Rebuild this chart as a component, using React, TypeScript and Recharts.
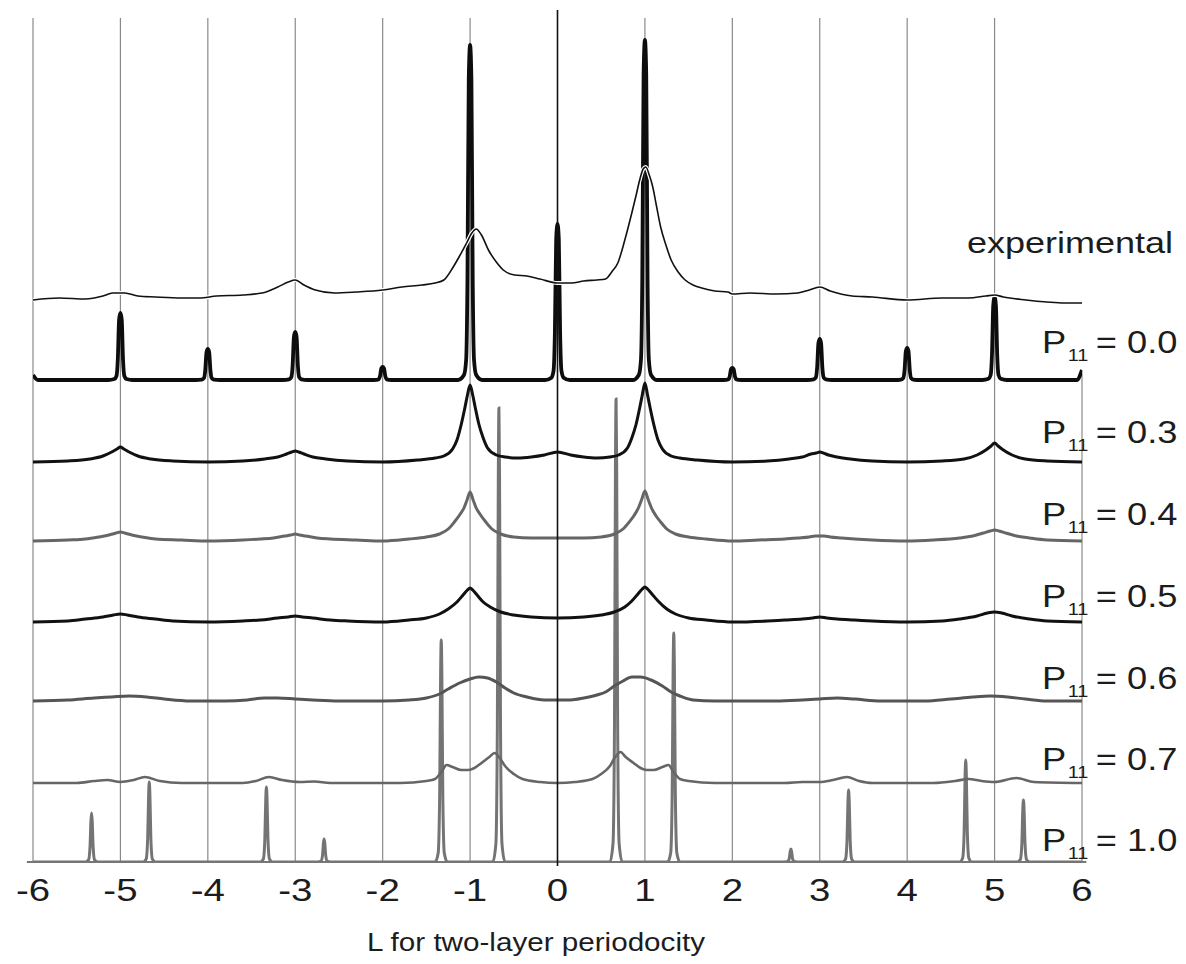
import React from 'react';
import { LineChart, Line, XAxis, YAxis, ReferenceLine } from 'recharts';

// ---------- tick labels / text ----------
const L_TICKS = [-6, -5, -4, -3, -2, -1, 0, 1, 2, 3, 4, 5, 6];
const X_TITLE = 'L for two-layer periodocity';
const EXP_NAME = 'experimental';
const P11_VALUES = ['0.0', '0.3', '0.4', '0.5', '0.6', '0.7', '1.0'];

// vertical offsets (stacking) of each curve, intensity units
const OFFSET_EXP = 562;
const OFFSET_P00 = 482;
const OFFSET_P03 = 400;
const OFFSET_P04 = 321;
const OFFSET_P05 = 240;
const OFFSET_P06 = 161;
const OFFSET_P07 = 79;
const OFFSET_P10 = 0;

// ---------- series values [L, intensity] ----------
const EXPERIMENTAL: number[][] = [
  [-6, 0], [-5.7, 2], [-5.4, 1], [-5.2, 4], [-5.09, 7], [-4.95, 7], [-4.8, 4], [-4.6, 3],
  [-4.3, 2], [-4.1, 2], [-3.9, 4], [-3.6, 5], [-3.38, 7], [-3.2, 13], [-3.08, 18], [-3.0, 20],
  [-2.9, 15], [-2.77, 10], [-2.55, 7], [-2.3, 8], [-2.0, 10], [-1.78, 13], [-1.55, 15],
  [-1.4, 17], [-1.3, 20], [-1.2, 32], [-1.12, 44], [-1.04, 57], [-0.98, 67], [-0.93, 71],
  [-0.87, 65], [-0.79, 50], [-0.7, 38], [-0.62, 30], [-0.49, 25], [-0.35, 24], [-0.2, 21],
  [0, 17], [0.16, 17], [0.3, 19], [0.45, 20], [0.55, 21], [0.62, 28], [0.69, 37], [0.77, 60],
  [0.85, 87], [0.9, 105], [0.94, 120], [0.98, 131], [1.01, 133], [1.05, 125], [1.09, 113],
  [1.13, 95], [1.18, 73], [1.24, 55], [1.3, 40], [1.38, 28], [1.46, 20], [1.55, 15],
  [1.65, 12], [1.8, 9], [1.95, 8], [2.0, 6], [2.2, 7], [2.5, 6], [2.75, 7], [2.88, 10],
  [3.0, 13], [3.12, 9], [3.37, 4], [3.6, 3], [4.0, 0], [4.4, 2], [4.7, 2], [4.9, 4],
  [5.0, 5], [5.1, 3], [5.36, 0], [5.6, -2], [5.8, -3], [6.0, -3],
];

// P11 = 0.0 : sharp peaks [L, height]
const P00_PEAKS: number[][] = [
  [-5, 67], [-4, 31], [-3, 48], [-2, 13], [-1, 335], [0, 156], [1, 340], [2, 12], [3, 41], [4, 32], [5, 83],
];
const P00_EDGES: number[][] = [[-6, 5], [-5.94, 0], [5.94, 0], [6, 10]];

const P03: number[][] = [
  [-6, 0], [-5.6, 1], [-5.35, 3], [-5.2, 6], [-5.1, 10], [-5.04, 13], [-5, 15], [-4.96, 13],
  [-4.9, 10], [-4.8, 6], [-4.65, 3], [-4.4, 1], [-4, 0], [-3.6, 1], [-3.35, 3], [-3.2, 5],
  [-3.1, 8], [-3.04, 10], [-3, 11], [-2.96, 10], [-2.9, 8], [-2.8, 5], [-2.65, 3], [-2.4, 1],
  [-2, 0], [-1.6, 2], [-1.4, 4], [-1.3, 6], [-1.2, 13], [-1.15, 22], [-1.1, 38], [-1.06, 54],
  [-1.03, 67], [-1, 77], [-0.97, 67], [-0.94, 54], [-0.9, 38], [-0.85, 24], [-0.8, 14],
  [-0.7, 7], [-0.6, 5], [-0.45, 4], [-0.3, 5], [-0.15, 7], [0, 10], [0.15, 7], [0.3, 5],
  [0.45, 4], [0.6, 5], [0.7, 7], [0.8, 14], [0.85, 24], [0.9, 38], [0.94, 54], [0.97, 67],
  [1, 79], [1.03, 67], [1.06, 54], [1.1, 38], [1.15, 22], [1.2, 13], [1.3, 6], [1.4, 4],
  [1.6, 2], [2, 0], [2.4, 1], [2.65, 3], [2.8, 5], [2.9, 8], [2.96, 9], [3, 10], [3.04, 9],
  [3.1, 7], [3.2, 5], [3.35, 3], [3.6, 1], [4, 0], [4.4, 1], [4.65, 3], [4.8, 7], [4.9, 12],
  [4.96, 16], [5, 19], [5.04, 16], [5.1, 12], [5.2, 7], [5.35, 3], [5.6, 1], [6, 0],
];

const P04: number[][] = [
  [-6, 0], [-5.6, 1], [-5.4, 2], [-5.25, 4], [-5.13, 6], [-5.05, 8], [-5, 9], [-4.95, 8],
  [-4.87, 6], [-4.75, 4], [-4.6, 2], [-4.3, 1], [-4, 0], [-3.6, 1], [-3.4, 2], [-3.25, 3],
  [-3.12, 5], [-3.05, 6], [-3, 7], [-2.95, 6], [-2.88, 5], [-2.75, 3], [-2.6, 2], [-2.3, 1],
  [-2, 0], [-1.7, 2], [-1.5, 4], [-1.35, 7], [-1.25, 12], [-1.18, 19], [-1.12, 26],
  [-1.07, 33], [-1.035, 41], [-1, 49], [-0.965, 41], [-0.93, 33], [-0.88, 26], [-0.82, 19],
  [-0.75, 12], [-0.65, 7], [-0.5, 4], [-0.3, 3], [0, 3], [0.3, 3], [0.5, 4], [0.65, 7],
  [0.75, 12], [0.82, 19], [0.88, 26], [0.93, 34], [0.965, 42], [1, 50], [1.035, 42],
  [1.07, 34], [1.12, 26], [1.18, 19], [1.25, 12], [1.35, 7], [1.5, 4], [1.7, 2], [2, 0],
  [2.3, 1], [2.6, 2], [2.75, 3], [2.88, 4], [2.95, 5], [3, 5], [3.05, 5], [3.12, 4], [3.25, 3],
  [3.4, 2], [3.6, 1], [4, 0], [4.3, 1], [4.6, 3], [4.75, 5], [4.87, 8], [4.95, 10], [5, 11],
  [5.05, 10], [5.13, 8], [5.25, 5], [5.4, 3], [5.6, 1], [6, 0],
];

const P05: number[][] = [
  [-6, 0], [-5.6, 1], [-5.4, 3], [-5.2, 5], [-5.08, 7], [-5, 8], [-4.92, 7], [-4.8, 5],
  [-4.6, 3], [-4.4, 1], [-4, 0], [-3.6, 1], [-3.4, 2], [-3.2, 4], [-3.08, 5], [-3, 6],
  [-2.92, 5], [-2.8, 4], [-2.6, 2], [-2.4, 1], [-2, 0], [-1.7, 2], [-1.5, 4], [-1.35, 8],
  [-1.25, 13], [-1.15, 20], [-1.08, 27], [-1.03, 32], [-1, 34], [-0.97, 32], [-0.92, 27],
  [-0.85, 20], [-0.77, 15], [-0.65, 10], [-0.5, 7], [-0.3, 5], [0, 4], [0.3, 5], [0.5, 7],
  [0.65, 10], [0.77, 15], [0.85, 21], [0.92, 28], [0.97, 33], [1, 35], [1.03, 33], [1.08, 28],
  [1.15, 21], [1.25, 13], [1.35, 8], [1.5, 4], [1.7, 2], [2, 0], [2.4, 1], [2.6, 2], [2.8, 3],
  [2.92, 4], [3, 5], [3.08, 4], [3.2, 3], [3.4, 2], [3.6, 1], [4, 0], [4.4, 1], [4.6, 3],
  [4.8, 6], [4.92, 9], [5, 10], [5.08, 9], [5.2, 6], [5.4, 3], [5.6, 1], [6, 0],
];

const P06: number[][] = [
  [-6, 0], [-5.6, 1], [-5.3, 3], [-5.1, 4], [-4.9, 5], [-4.7, 4], [-4.5, 2], [-4.2, 0],
  [-3.8, 0], [-3.55, 1], [-3.35, 3], [-3.2, 3], [-3.0, 2], [-2.8, 1], [-2.5, 0], [-2, 0],
  [-1.7, 1], [-1.5, 3], [-1.35, 7], [-1.25, 12], [-1.12, 18], [-1.0, 22], [-0.9, 24],
  [-0.8, 23], [-0.7, 19], [-0.6, 13], [-0.5, 8], [-0.35, 4], [-0.15, 1], [0, 1], [0.15, 1],
  [0.3, 3], [0.45, 6], [0.55, 9], [0.65, 15], [0.75, 20], [0.85, 24], [0.95, 24], [1.07, 21],
  [1.2, 15], [1.3, 9], [1.4, 5], [1.55, 1], [1.8, 0], [2.5, 0], [2.8, 1], [3.0, 2], [3.2, 3],
  [3.4, 2], [3.7, 0], [4.2, 0], [4.5, 2], [4.75, 4], [4.95, 5], [5.15, 4], [5.35, 2],
  [5.6, 0], [6, 0],
];

const P07: number[][] = [
  [-6, 0], [-5.5, 0], [-5.3, 2], [-5.15, 3], [-5.0, 1], [-4.85, 3], [-4.72, 6], [-4.55, 2],
  [-4.3, 0], [-3.6, 0], [-3.45, 2], [-3.3, 6], [-3.15, 3], [-2.95, 1], [-2.78, 1.5], [-2.6, 0],
  [-1.8, 0], [-1.5, 2], [-1.4, 4], [-1.32, 12], [-1.27, 18], [-1.2, 16], [-1.1, 13],
  [-1.02, 13], [-0.95, 15], [-0.87, 20], [-0.78, 26], [-0.72, 30], [-0.66, 25], [-0.6, 17],
  [-0.5, 9], [-0.4, 4], [-0.2, 1], [0, 0], [0.2, 1], [0.4, 4], [0.5, 9], [0.6, 17], [0.66, 26],
  [0.72, 31], [0.78, 26], [0.87, 20], [0.95, 15], [1.02, 13], [1.1, 13], [1.2, 16], [1.27, 18],
  [1.32, 12], [1.4, 4], [1.5, 2], [1.8, 0], [2.6, 0], [2.8, 1], [3.0, 1], [3.15, 3], [3.31, 6],
  [3.45, 2], [3.6, 0], [4.3, 0], [4.55, 2], [4.7, 4], [4.85, 2], [5.0, 1], [5.25, 5],
  [5.45, 1], [6, 0],
];

// P11 = 1.0 : sharp peaks [L, height]
const P10_PEAKS: number[][] = [
  [-5.33, 49], [-4.67, 80], [-3.33, 75], [-2.67, 23], [-1.33, 222], [-0.67, 454],
  [0.67, 463], [1.33, 229], [2.67, 13], [3.33, 72], [4.67, 102], [5.33, 62],
];

// outline (in L and fraction of height) used to draw one narrow peak
const NARROW_OUTLINE = [
  [-0.14, 0], [-0.07, 0.015], [-0.045, 0.06], [-0.03, 0.3], [-0.015, 0.9], [0, 1],
  [0.015, 0.9], [0.03, 0.3], [0.045, 0.06], [0.07, 0.015], [0.14, 0],
];
const THIN_OUTLINE = [
  [-0.07, 0], [-0.035, 0.04], [-0.018, 0.3], [-0.007, 0.85], [0, 1],
  [0.007, 0.85], [0.018, 0.3], [0.035, 0.04], [0.07, 0],
];

function peakOutline(peaks: number[][], outline: number[][], edges: number[][]) {
  const pts: number[][] = [...edges];
  peaks.forEach(([c, h]) => outline.forEach(([dx, f]) => pts.push([c + dx, h * f])));
  return pts.sort((a, b) => a[0] - b[0]);
}

function toRows(pairs: number[][], offset: number) {
  return pairs.map(([x, v]) => ({ x, y: v + offset }));
}

const expRows = toRows(EXPERIMENTAL, OFFSET_EXP);
const p00Rows = toRows(peakOutline(P00_PEAKS, NARROW_OUTLINE, P00_EDGES), OFFSET_P00);
const p03Rows = toRows(P03, OFFSET_P03);
const p04Rows = toRows(P04, OFFSET_P04);
const p05Rows = toRows(P05, OFFSET_P05);
const p06Rows = toRows(P06, OFFSET_P06);
const p07Rows = toRows(P07, OFFSET_P07);
const p10Rows = toRows(peakOutline(P10_PEAKS, THIN_OUTLINE, [[-6, 0], [6, 0]]), OFFSET_P10);

const FONT = '"Liberation Sans", Arial, Helvetica, sans-serif';
const W = 1170;
const H = 948;

const Tick = (props: any) => {
  const { x, payload } = props;
  return (
    <g transform={`translate(${x},893) scale(1.2,1)`}>
      <text x={0} y={0} textAnchor="middle" fontFamily={FONT} fontSize={32} fill="#1c1c1c">
        {payload.value}
      </text>
    </g>
  );
};

const LABEL_BASELINES = [345, 435, 517, 599, 681, 762, 843];

export default function App() {
  return (
    <div style={{ position: 'relative', width: W, height: H, background: '#fff' }}>
      <LineChart width={W} height={H} margin={{ top: 10, right: 96, bottom: 54, left: 25 }}>
        <XAxis
          dataKey="x"
          type="number"
          domain={[-6, 6]}
          ticks={L_TICKS}
          allowDataOverflow
          axisLine={false}
          tickLine={false}
          height={40}
          tick={<Tick />}
        />
        <YAxis type="number" domain={[0, 844]} hide allowDataOverflow />
        {L_TICKS.filter((t) => t !== 0 && t !== 6).map((t) => (
          <ReferenceLine
            key={t}
            segment={[{ x: t, y: 0 }, { x: t, y: 844 }]}
            stroke="#8a8a8a"
            strokeWidth={1.2}
            ifOverflow="visible"
          />
        ))}
        <ReferenceLine
          segment={[{ x: 6, y: 0 }, { x: 6, y: 492 }]}
          stroke="#8a8a8a"
          strokeWidth={1.2}
          ifOverflow="visible"
        />
        <ReferenceLine
          segment={[{ x: -6.07, y: 0 }, { x: 6.05, y: 0 }]}
          stroke="#777"
          strokeWidth={2}
          ifOverflow="visible"
        />
        <Line data={p10Rows} dataKey="y" type="monotone" stroke="#747474" strokeWidth={3} dot={false} isAnimationActive={false} />
        <Line data={p07Rows} dataKey="y" type="monotone" stroke="#666" strokeWidth={2.6} dot={false} isAnimationActive={false} />
        <Line data={p06Rows} dataKey="y" type="monotone" stroke="#555" strokeWidth={3} dot={false} isAnimationActive={false} />
        <Line data={p05Rows} dataKey="y" type="monotone" stroke="#111" strokeWidth={3} dot={false} isAnimationActive={false} />
        <Line data={p04Rows} dataKey="y" type="monotone" stroke="#666" strokeWidth={3} dot={false} isAnimationActive={false} />
        <Line data={p03Rows} dataKey="y" type="monotone" stroke="#111" strokeWidth={3} dot={false} isAnimationActive={false} />
        <Line data={p00Rows} dataKey="y" type="monotone" stroke="#0d0d0d" strokeWidth={3.8} dot={false} isAnimationActive={false} />
        <ReferenceLine
          segment={[{ x: 0, y: -4 }, { x: 0, y: 852 }]}
          stroke="#111"
          strokeWidth={1.6}
          ifOverflow="visible"
        />
        <Line data={expRows} dataKey="y" type="monotone" stroke="#fff" strokeWidth={4} dot={false} isAnimationActive={false} />
        <Line data={expRows} dataKey="y" type="monotone" stroke="#111" strokeWidth={1.6} dot={false} isAnimationActive={false} />
      </LineChart>
      <svg
        width={1178}
        height={H}
        style={{ position: 'absolute', left: 0, top: 0, pointerEvents: 'none', overflow: 'visible' }}
      >
        <g transform="translate(959,245) scale(1.2,1)">
          <text x={0} y={0} fontFamily={FONT} fontSize={30} fill="#1c1c1c">{EXP_NAME}</text>
        </g>
        {P11_VALUES.map((v, i) => (
          <g key={v} transform={`translate(1034,${LABEL_BASELINES[i]}) scale(1.17,1)`} fontFamily={FONT} fill="#1c1c1c">
            <text x={0} y={0} fontSize={31}>P</text>
            <text x={22} y={8} fontSize={17}>11</text>
            <text x={46} y={0} fontSize={31}>= {v}</text>
          </g>
        ))}
        <g transform="translate(528,943) scale(1.14,1)">
          <text x={0} y={0} textAnchor="middle" fontFamily={FONT} fontSize={26} fill="#1c1c1c">{X_TITLE}</text>
        </g>
      </svg>
    </div>
  );
}
